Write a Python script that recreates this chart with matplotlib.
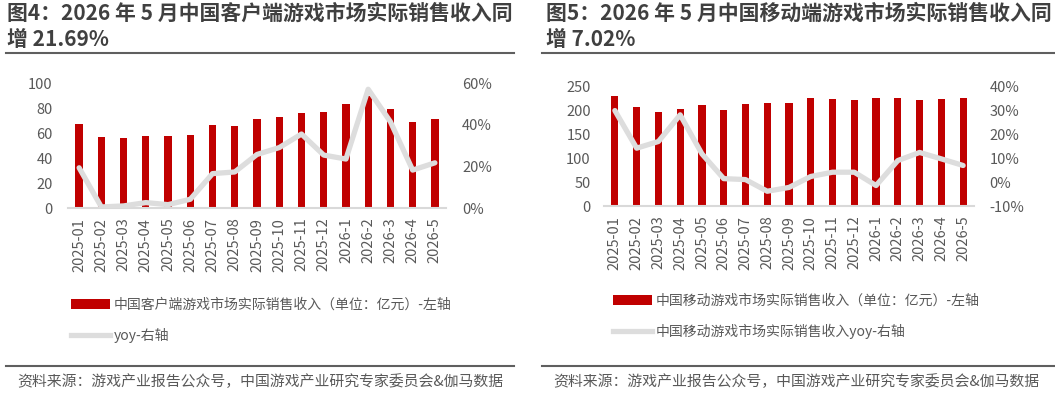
import matplotlib.pyplot as plt
from matplotlib.lines import Line2D
from matplotlib.patches import Patch

plt.rcParams['font.family'] = ['Noto Sans CJK SC', 'DejaVu Sans']

# Data
months = ['2025-01', '2025-02', '2025-03', '2025-04', '2025-05', '2025-06',
          '2025-07', '2025-08', '2025-09', '2025-10', '2025-11', '2025-12',
          '2026-1', '2026-2', '2026-3', '2026-4', '2026-5']

client_rev = [67.0, 56.8, 56.0, 58.0, 58.0, 58.7, 66.5, 66.0, 71.3, 72.7,
              76.4, 77.0, 83.0, 90.0, 79.4, 69.0, 71.3]
client_yoy = [19.3, 0.5, 1.0, 2.6, 1.6, 4.2, 16.5, 17.3, 25.7, 29.0,
              35.5, 25.4, 23.5, 57.0, 41.4, 18.2, 21.69]

mobile_rev = [230.4, 208.7, 198.0, 203.8, 212.0, 201.0, 214.0, 215.7, 215.7,
              226.0, 225.5, 222.0, 226.0, 227.6, 222.7, 224.8, 226.0]
mobile_yoy = [30.1, 14.3, 17.1, 28.3, 11.9, 1.5, 1.1, -3.8, -2.2, 2.4,
              4.2, 4.2, -1.4, 9.1, 12.5, 9.8, 7.02]

titles = ['图4：2026 年 5 月中国客户端游戏市场实际销售收入同\n增 21.69%',
          '图5：2026 年 5 月中国移动端游戏市场实际销售收入同\n增 7.02%']
bar_labels = ['中国客户端游戏市场实际销售收入（单位：亿元）-左轴',
              '中国移动游戏市场实际销售收入（单位：亿元）-左轴']
line_labels = ['yoy-右轴', '中国移动游戏市场实际销售收入yoy-右轴']
source = '资料来源：游戏产业报告公众号，中国游戏产业研究专家委员会&伽马数据'

W, H = 1055, 405
RED = '#C00000'
LINE = '#DDDDDD'
TXT = '#595959'

fig = plt.figure(figsize=(W / 100, H / 100), dpi=100)


def px_axes(x0, y_top, x1, y_bot):
    return fig.add_axes([x0 / W, 1 - y_bot / H, (x1 - x0) / W, (y_bot - y_top) / H])


def panel(x_off, box, rev, yoy, ylim, yticks, y2lim, y2ticks, title, blab, llab,
          lpad, rpad, leg_x, leg_y, line_x0, line_x1, src_x):
    ax = px_axes(*box)
    x = range(len(months))
    ax.bar(x, rev, width=0.33, color=RED, zorder=2)
    ax.set_xlim(-0.5, len(months) - 0.5)
    ax.set_ylim(*ylim)
    ax.set_yticks(yticks)
    ax.set_xticks(list(x))
    ax.set_xticklabels(months, rotation=90, fontsize=10, color=TXT)
    for s in ['top', 'right', 'left']:
        ax.spines[s].set_visible(False)
    ax.spines['bottom'].set_color('#D9D9D9')
    ax.spines['bottom'].set_linewidth(1.5)
    ax.tick_params(axis='both', length=0, labelsize=10.5, colors=TXT)
    ax.tick_params(axis='y', pad=lpad)
    ax.tick_params(axis='x', pad=7)

    ax2 = ax.twinx()
    ax2.plot(list(x), yoy, color=LINE, linewidth=3.8, solid_joinstyle='round',
             solid_capstyle='round', zorder=3)
    ax2.set_ylim(*y2lim)
    ax2.set_yticks(y2ticks)
    ax2.set_yticklabels([f'{t}%' for t in y2ticks])
    for s in ax2.spines.values():
        s.set_visible(False)
    ax2.tick_params(axis='y', length=0, labelsize=10.5, colors=TXT, pad=rpad)

    handles = [Patch(facecolor=RED, edgecolor='none'),
               Line2D([0], [0], color=LINE, linewidth=3.8)]
    fig.legend(handles, [blab, llab], loc='upper left',
               bbox_to_anchor=(leg_x / W, 1 - leg_y / H), frameon=False,
               fontsize=10, labelcolor=TXT, handlelength=2.8, handletextpad=0.3,
               labelspacing=1.15, borderpad=0, borderaxespad=0)

    fig.text((x_off + 7) / W, 1 - 3 / H, title, fontsize=15, fontweight='bold',
             color='#404040', va='top', ha='left', linespacing=1.3)
    fig.add_artist(Line2D([line_x0 / W, line_x1 / W], [1 - 53 / H, 1 - 53 / H],
                          color='#5F5F5F', linewidth=1.5))
    fig.add_artist(Line2D([line_x0 / W, line_x1 / W], [1 - 366 / H, 1 - 366 / H],
                          color='#5F5F5F', linewidth=1.5))
    fig.text(src_x / W, 1 - 382 / H, source, fontsize=10.7, color=TXT,
             va='center', ha='left')


panel(0, (68, 83, 446, 208), client_rev, client_yoy, (0, 100), [0, 20, 40, 60, 80, 100],
      (0, 60), [0, 20, 40, 60], titles[0], bar_labels[0], line_labels[0],
      11, 11.5, 71, 298, 6, 514, 17)
panel(539, (604, 87, 974, 206), mobile_rev, mobile_yoy, (0, 250),
      [0, 50, 100, 150, 200, 250], (-10, 40), [-10, 0, 10, 20, 30, 40],
      titles[1], bar_labels[1], line_labels[1], 9.5, 11, 613, 294, 542, 1054, 553)

fig.savefig('out.png', dpi=100)
